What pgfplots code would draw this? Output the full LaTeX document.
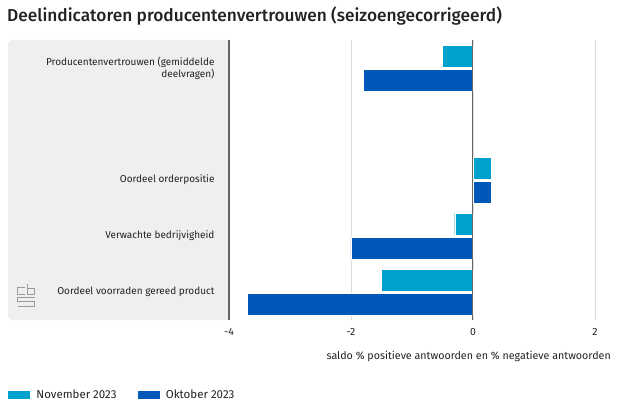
\documentclass[border=0pt]{standalone}
\usepackage{fontspec}
\setmainfont{Fira Sans}
\newfontfamily\titlefont{Fira Sans Medium}
\usepackage{pgfplots}
\pgfplotsset{compat=1.18}
\definecolor{nov}{HTML}{00A1CD}
\definecolor{okt}{HTML}{0058B8}
\definecolor{panel}{HTML}{EFEFEF}
\definecolor{axisgray}{HTML}{666666}
\definecolor{gridgray}{HTML}{DCDCDC}
\definecolor{txt}{HTML}{222222}
\definecolor{logo}{HTML}{9A9A9A}

\begin{document}
\begin{tikzpicture}
\useasboundingbox (0,0) rectangle (626pt,405pt);
% grijs paneel achter de categorieen
\fill[panel, rounded corners=5pt] (8pt,85pt) rectangle (236pt,365pt);
\fill[white] (229.5pt,84pt) rectangle (237pt,366pt);
% cbs logo (benadering)
\begin{scope}[draw=logo, line width=0.7pt]
  \draw (25pt,111pt) -- (17.5pt,111pt) -- (17.5pt,118pt) -- (25pt,118pt);
  \draw (27.5pt,121pt) -- (27.5pt,111pt) -- (34.5pt,111pt) -- (34.5pt,117pt) -- (27.5pt,117pt);
  \draw (34.5pt,108pt) -- (17.5pt,108pt) -- (17.5pt,103.5pt) -- (34.5pt,103.5pt) -- (34.5pt,99pt) -- (17.5pt,99pt);
\end{scope}
\node[anchor=west, font=\titlefont\fontsize{17.3}{19}\selectfont, text=txt, inner sep=0]
  at (7pt,389pt) {Deelindicatoren producentenvertrouwen (seizoengecorrigeerd)};
\begin{axis}[
  at={(229pt,85pt)}, anchor=south west,
  scale only axis, width=366pt, height=280pt,
  xmin=-4, xmax=2, ymin=-0.5, ymax=4.5,
  xbar, bar width=22pt,
  axis line style={draw=none},
  xtick={-4,-2,0,2}, xticklabels={-4,-2,0,2},
  ytick={0,1,2,4},
  yticklabels={Oordeel voorraden gereed product, Verwachte bedrijvigheid,
    Oordeel orderpositie, {Producentenvertrouwen (gemiddelde\\deelvragen)}},
  major tick length=0pt,
  xmajorgrids, grid style={gridgray, line width=0.8pt},
  yticklabel style={font=\fontsize{10}{12}\selectfont, text=txt, align=right, xshift=-11pt},
  xticklabel style={font=\fontsize{10.5}{12}\selectfont, text=txt, yshift=-5pt},
  clip=false,
  legend columns=2,
  legend style={at={(-0.615,-0.266)}, anchor=west, draw=none, fill=none,
    font=\fontsize{11.5}{13}\selectfont, text=txt,
    /tikz/every even column/.append style={column sep=18pt}},
  legend image code/.code={\fill[#1] (0pt,-4.5pt) rectangle (23pt,4.5pt);
    \path (27pt,0pt);},
]
\addplot[fill=nov, draw=white, line width=0.3pt, bar shift=12pt]
  coordinates {(-0.5,4) (0.3,2) (-0.3,1) (-1.5,0)};
\addplot[fill=okt, draw=white, line width=0.3pt, bar shift=-12pt]
  coordinates {(-1.8,4) (0.3,2) (-2.0,1) (-3.7,0)};
\legend{November 2023, Oktober 2023}
\draw[axisgray, line width=1pt] (axis cs:-4,-0.5) -- (axis cs:-4,4.5);
\draw[axisgray, line width=1pt] (axis cs:0,-0.5) -- (axis cs:0,4.5);
\end{axis}
\node[anchor=east, font=\fontsize{10.7}{12}\selectfont, text=txt, inner sep=0]
  at (611pt,49pt) {saldo \% positieve antwoorden en \% negatieve antwoorden};
\end{tikzpicture}
\end{document}
